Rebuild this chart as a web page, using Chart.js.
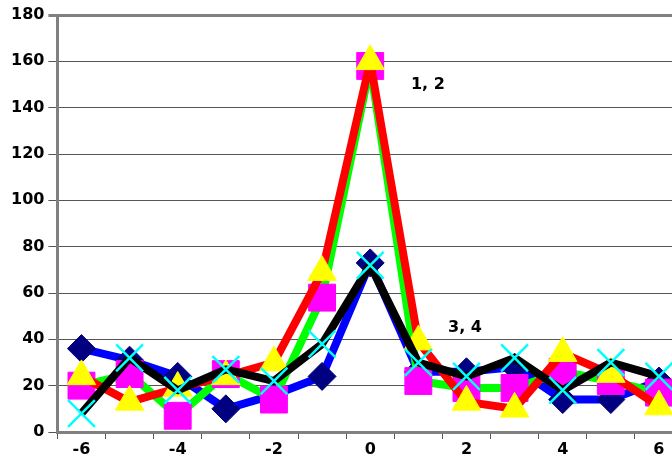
<!DOCTYPE html>
<html>
<head>
<meta charset="utf-8">
<script src="https://cdn.jsdelivr.net/npm/chart.js@4/dist/chart.umd.min.js"></script>
<style>
  html, body { margin: 0; padding: 0; background: #fff; overflow: hidden; }
</style>
</head>
<body>
<canvas id="chart" width="684" height="461"></canvas>
<script>
const categories = [-6, -5, -4, -3, -2, -1, 0, 1, 2, 3, 4, 5, 6];

const blueSeries  = [36, 31, 24, 10, 16, 24, 73, 26, 26, 28, 14, 14, 22];
const greenSeries = [20, 25, 7, 25, 14, 58, 158, 22, 19, 19, 26, 22, 17];
const redSeries   = [24, 13, 19, 24, 30, 69, 160, 39, 13, 10, 34, 25, 11];
const blackSeries = [8, 32, 18, 27, 22, 38, 72, 30, 24, 32, 18, 30, 24];

const yTicks = [0, 20, 40, 60, 80, 100, 120, 140, 160, 180];

// labels placed at (category index, value)
const noteText = ['1, 2', '3, 4'];
const noteX = [7.2, 7.97];
const noteY = [150, 45];

const font = { family: 'DejaVu Sans', size: 16, weight: 'bold', lineHeight: 1 };

const notes = {
  id: 'notes',
  afterDatasetsDraw(chart) {
    const ctx = chart.ctx;
    const xs = chart.scales.x, ys = chart.scales.y;
    ctx.save();
    ctx.font = 'bold 16px "DejaVu Sans"';
    ctx.fillStyle = '#000';
    ctx.textAlign = 'center';
    ctx.textBaseline = 'middle';
    noteText.forEach((t, i) => {
      ctx.fillText(t, xs.getPixelForValue(noteX[i]), ys.getPixelForValue(noteY[i]));
    });
    ctx.restore();
  }
};

function series(data, line, style, fill, border, radius, order) {
  return {
    data: data,
    borderColor: line,
    borderWidth: 8,
    borderJoinStyle: 'round',
    tension: 0,
    pointStyle: style,
    pointRadius: radius,
    pointBackgroundColor: fill,
    pointBorderColor: border,
    pointBorderWidth: style === 'crossRot' ? 2.5 : 1,
    order: order,
    clip: false
  };
}

new Chart(document.getElementById('chart'), {
  type: 'line',
  data: {
    labels: categories,
    datasets: [
      series(blueSeries, '#0000ff', 'rectRot', '#000080', '#000080', 14, 4),
      series(greenSeries, '#00ff00', 'rect', '#ff00ff', '#ff00ff', 19, 3),
      series(redSeries, '#ff0000', 'triangle', '#ffff00', '#ffff00', 16.5, 2),
      series(blackSeries, '#000000', 'crossRot', '#00ffff', '#00ffff', 19, 1)
    ]
  },
  options: {
    responsive: false,
    animation: false,
    events: [],
    layout: { autoPadding: false, padding: { left: 7, top: 15, right: 1, bottom: 0 } },
    plugins: { legend: { display: false }, tooltip: { enabled: false } },
    scales: {
      x: {
        offset: true,
        grid: { offset: true, drawOnChartArea: false, drawTicks: true, tickLength: 7, color: '#555' },
        border: { color: '#808080', width: 3 },
        ticks: {
          autoSkip: false,
          maxRotation: 0,
          padding: 3,
          color: '#000',
          font: font,
          callback: (v, i) => (categories[i] % 2 === 0 ? String(categories[i]) : '')
        }
      },
      y: {
        min: 0,
        max: 180,
        afterBuildTicks: axis => { axis.ticks = yTicks.map(v => ({ value: v })); },
        grid: {
          color: ctx => (ctx.tick && ctx.tick.value === 180 ? '#808080' : '#555'),
          lineWidth: ctx => (ctx.tick && ctx.tick.value === 180 ? 3 : 1),
          tickLength: 9
        },
        border: { color: '#808080', width: 3 },
        ticks: { padding: 4, color: '#000', font: font }
      }
    }
  },
  plugins: [notes]
});
</script>
</body>
</html>
